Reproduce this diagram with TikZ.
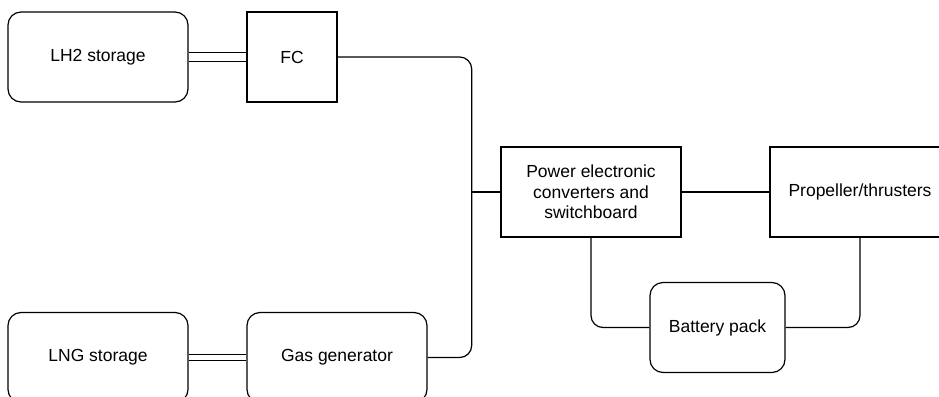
\documentclass[tikz,border=0pt]{standalone}
\usepackage{fontspec}
\setmainfont{Liberation Sans}
\begin{document}
\begin{tikzpicture}[
  x=1pt, y=-1pt,
  hyblock/.style = {draw, line width=1.2pt, minimum width=180pt, minimum height=90pt,
                    inner sep=0pt, align=center, font=\fontsize{17.5}{20.5}\selectfont},
  hytank/.style = {hyblock, rounded corners=13pt},
  hywire/.style = {line width=1.2pt, rounded corners=12pt},
  hyfuel/.style = {line width=1.1pt, double, double distance=#1}
]
  \clip (0,0) rectangle (939,396);
  % storage and conversion
  \node[hytank] (lh2) at (98,57) {LH2 storage};
  \node[hyblock, minimum width=90pt] (fc) at (292,57) {FC};
  \node[hytank] (lng) at (98,357.5) {LNG storage};
  \node[hytank] (gas) at (337,357.5) {Gas generator};
  % power side
  \node[hyblock] (pec) at (591,192) {Power electronic\\converters and\\switchboard};
  \node[hyblock] (prop) at (860,192) {Propeller/thrusters};
  \node[hytank, minimum width=135pt] (bat) at (717.5,327.5) {Battery pack};
  % fuel lines
  \draw[hyfuel=8.6pt] (lh2.east) -- (fc.west);
  \draw[hyfuel=4.2pt] (lng.east) -- (gas.west);
  % electrical bus
  \coordinate (bus) at (471.7,192);
  \draw[hywire] (fc.east) -| (bus) |- (gas.east);
  \draw[hywire] (bus) -- (pec.west);
  \draw[hywire] (pec.east) -- (prop.west);
  \draw[hywire] (pec.south) |- (bat.west);
  \draw[hywire] (prop.south) |- (bat.east);
\end{tikzpicture}
\end{document}
